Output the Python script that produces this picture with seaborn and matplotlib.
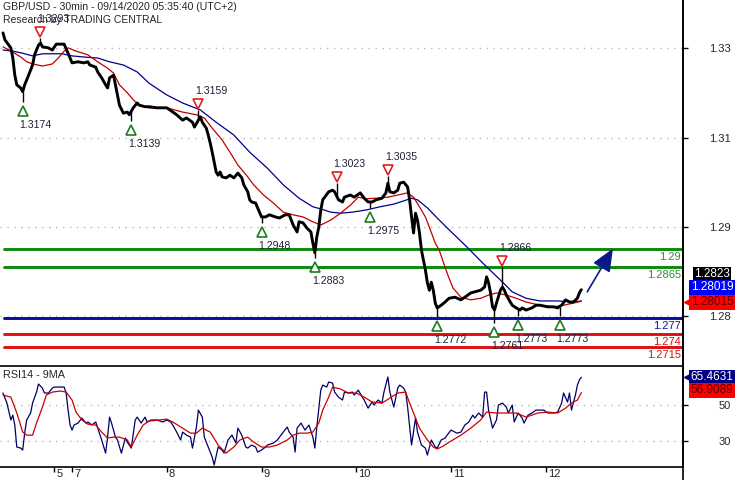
import matplotlib.pyplot as plt
import matplotlib.transforms as mtrans
from matplotlib.lines import Line2D
import numpy as np
import seaborn as sns

# GBP/USD 30 min closes, x = bar number from the left edge of the chart
price_bar = [0, 1, 4, 5, 6, 7, 9, 10, 11, 13,
             15, 16, 18, 19, 20, 23, 25, 27, 31, 33,
             34, 35, 38, 41, 43, 44, 47, 48, 50, 52,
             53, 54, 56, 57, 58, 59, 61, 63, 64, 66,
             68, 69, 72, 74, 78, 83, 88, 91, 93, 96,
             97, 99, 100, 101, 103, 104, 105, 106, 107, 108,
             109, 110, 111, 113, 115, 117, 119, 121, 122, 124,
             125, 126, 128, 129, 131, 133, 135, 138, 140, 143,
             145, 147, 149, 150, 152, 154, 156, 157, 158, 159,
             160, 161, 162, 163, 165, 167, 168, 170, 172, 173,
             176, 178, 181, 183, 185, 187, 189, 192, 194, 195,
             196, 198, 200, 201, 203, 205, 206, 207, 208, 209,
             210, 211, 212, 213, 214, 215, 216, 217, 218, 219,
             220, 222, 224, 226, 229, 232, 234, 237, 239, 242,
             244, 245, 246, 247, 248, 249, 250, 252, 253, 254,
             255, 257, 258, 260, 262, 263, 265, 268, 270, 272,
             276, 279, 281, 283, 285, 287, 289, 291, 292, 293]
price_close = [1.3303, 1.3290, 1.3275, 1.3256, 1.3224, 1.3206, 1.3200, 1.3193, 1.3206, 1.3224,
               1.3243, 1.3262, 1.3280, 1.3284, 1.3277, 1.3275, 1.3271, 1.3282, 1.3282, 1.3265,
               1.3256, 1.3247, 1.3249, 1.3247, 1.3249, 1.3243, 1.3239, 1.3230, 1.3219, 1.3206,
               1.3200, 1.3219, 1.3224, 1.3206, 1.3187, 1.3168, 1.3153, 1.3155, 1.3150, 1.3163,
               1.3172, 1.3168, 1.3165, 1.3165, 1.3163, 1.3163, 1.3150, 1.3140, 1.3144, 1.3136,
               1.3127, 1.3140, 1.3146, 1.3136, 1.3125, 1.3112, 1.3097, 1.3080, 1.3062, 1.3043,
               1.3037, 1.3043, 1.3034, 1.3032, 1.3037, 1.3032, 1.3041, 1.3032, 1.3019, 1.3006,
               1.2991, 1.2987, 1.2985, 1.2976, 1.2959, 1.2959, 1.2963, 1.2959, 1.2957, 1.2963,
               1.2963, 1.2944, 1.2931, 1.2950, 1.2948, 1.2938, 1.2931, 1.2910, 1.2892, 1.2922,
               1.2940, 1.2972, 1.2991, 1.2996, 1.3006, 1.3009, 1.3006, 1.2991, 1.2987, 1.2996,
               1.3000, 1.2996, 1.3004, 1.2994, 1.2987, 1.2987, 1.2991, 1.2994, 1.3004, 1.3022,
               1.3006, 1.3004, 1.3009, 1.3022, 1.3024, 1.3015, 1.2991, 1.2959, 1.2929, 1.2966,
               1.2953, 1.2929, 1.2897, 1.2879, 1.2860, 1.2836, 1.2822, 1.2837, 1.2822, 1.2798,
               1.2789, 1.2794, 1.2800, 1.2807, 1.2809, 1.2804, 1.2809, 1.2817, 1.2819, 1.2822,
               1.2828, 1.2847, 1.2836, 1.2817, 1.2791, 1.2785, 1.2798, 1.2822, 1.2828, 1.2822,
               1.2813, 1.2800, 1.2794, 1.2789, 1.2785, 1.2789, 1.2785, 1.2789, 1.2794, 1.2794,
               1.2791, 1.2791, 1.2789, 1.2794, 1.2804, 1.2800, 1.2800, 1.2807, 1.2817, 1.2823]

# fast (red) and slow (blue) moving averages
red_ma_bar = [0, 5, 9, 12, 15, 20, 25, 28, 31, 33,
              37, 43, 48, 53, 56, 59, 63, 66, 69, 74,
              83, 91, 98, 102, 106, 111, 115, 119, 124, 127,
              132, 137, 142, 147, 152, 157, 161, 166, 171, 176,
              180, 184, 189, 195, 200, 205, 208, 211, 214, 216,
              219, 221, 225, 228, 232, 237, 242, 246, 250, 255,
              260, 265, 272, 279, 284, 289, 293]
red_ma_val = [1.3277, 1.3267, 1.3258, 1.3249, 1.3245, 1.3241, 1.3245, 1.3256, 1.3269, 1.3275,
              1.3269, 1.3262, 1.3249, 1.3237, 1.3228, 1.3206, 1.3191, 1.3178, 1.3168, 1.3163,
              1.3163, 1.3155, 1.3150, 1.3144, 1.3125, 1.3103, 1.3080, 1.3056, 1.3034, 1.3019,
              1.3000, 1.2985, 1.2968, 1.2963, 1.2959, 1.2950, 1.2944, 1.2953, 1.2966, 1.2981,
              1.2996, 1.2993, 1.2994, 1.2996, 1.3000, 1.3004, 1.2996, 1.2978, 1.2959, 1.2940,
              1.2910, 1.2897, 1.2854, 1.2826, 1.2809, 1.2804, 1.2807, 1.2813, 1.2817, 1.2813,
              1.2807, 1.2800, 1.2794, 1.2791, 1.2794, 1.2798, 1.28015]
blue_ma_bar = [0, 5, 10, 15, 20, 25, 30, 35, 41, 48,
               54, 61, 68, 74, 83, 91, 100, 108, 117, 125,
               134, 142, 150, 157, 161, 166, 171, 177, 184, 191,
               198, 203, 207, 210, 215, 220, 226, 235, 243, 252,
               258, 265, 272, 281, 289, 293]
blue_ma_val = [1.3271, 1.3269, 1.3265, 1.3260, 1.3264, 1.3264, 1.3264, 1.3260, 1.3258, 1.3256,
               1.3249, 1.3243, 1.3230, 1.3209, 1.3187, 1.3172, 1.3159, 1.3136, 1.3112, 1.3080,
               1.3050, 1.3019, 1.2994, 1.2978, 1.2974, 1.2968, 1.2966, 1.2968, 1.2972, 1.2978,
               1.2983, 1.2989, 1.2994, 1.2991, 1.2976, 1.2957, 1.2935, 1.2903, 1.2873, 1.2841,
               1.2819, 1.2807, 1.2802, 1.2802, 1.2800, 1.28019]

# swing highs / lows
high_bar = [19, 99, 169, 195, 253]
high_val = [1.3293, 1.3159, 1.3023, 1.3035, 1.2866]
low_bar = [10, 65, 131, 158, 186, 220, 249, 261, 282]
low_val = [1.3174, 1.3139, 1.2948, 1.2883, 1.2975, 1.2772, 1.2761, 1.2773, 1.2773]

# key levels
resist_levels = [1.29, 1.2865]
pivot_level = 1.277
support_levels = [1.274, 1.2715]
target = 1.29

# RSI14 and its 9 period MA
rsi_bar = [0, 2, 4, 5, 6, 7, 9, 10, 11, 12,
           14, 15, 17, 18, 20, 21, 23, 25, 26, 28,
           31, 32, 33, 34, 35, 36, 38, 40, 42, 43,
           45, 47, 48, 50, 52, 53, 54, 55, 57, 58,
           60, 62, 63, 65, 67, 68, 70, 72, 73, 75,
           78, 81, 83, 85, 86, 88, 90, 91, 93, 95,
           96, 98, 99, 101, 102, 104, 106, 107, 109, 111,
           112, 114, 116, 118, 119, 121, 123, 124, 126, 128,
           129, 131, 133, 134, 137, 139, 142, 144, 145, 147,
           148, 149, 151, 153, 155, 157, 158, 159, 161, 162,
           164, 165, 167, 168, 170, 172, 173, 175, 177, 178,
           180, 182, 183, 185, 187, 188, 190, 192, 193, 195,
           196, 198, 200, 201, 203, 204, 205, 207, 209, 210,
           212, 214, 215, 217, 219, 220, 222, 224, 225, 227,
           229, 230, 232, 234, 236, 238, 239, 241, 243, 244,
           245, 246, 248, 250, 251, 253, 255, 256, 258, 259,
           261, 263, 264, 266, 268, 270, 271, 274, 276, 279,
           281, 283, 284, 286, 287, 288, 290, 291, 292, 293]
rsi_val = [56.7, 51.1, 41.7, 44.4, 38.9, 26.7, 26.1, 25.0, 34.4, 41.7,
           45.6, 51.1, 57.2, 61.7, 59.4, 56.7, 56.7, 59.4, 60.0, 60.0,
           60.0, 56.7, 47.2, 38.9, 36.1, 38.9, 40.0, 42.8, 40.0, 40.6,
           38.9, 40.6, 37.2, 30.6, 23.3, 32.2, 43.3, 40.0, 32.2, 30.6,
           23.3, 31.7, 29.4, 26.1, 41.7, 43.3, 40.0, 43.3, 40.6, 41.7,
           41.7, 40.6, 41.7, 40.6, 38.9, 35.0, 30.6, 35.0, 33.3, 32.2,
           26.1, 37.8, 47.2, 43.3, 32.2, 26.7, 21.1, 16.7, 26.7, 25.0,
           23.3, 30.6, 33.3, 28.9, 37.2, 33.3, 26.7, 26.1, 27.8, 26.7,
           23.9, 25.0, 26.7, 27.8, 28.9, 30.6, 35.0, 37.8, 35.0, 32.2,
           23.9, 37.2, 40.0, 36.1, 38.9, 32.2, 26.1, 37.8, 58.3, 61.1,
           60.0, 62.8, 62.2, 57.2, 54.4, 52.8, 57.2, 56.7, 57.2, 55.6,
           58.3, 54.4, 52.8, 48.3, 51.7, 50.0, 52.8, 51.1, 57.2, 65.6,
           57.2, 48.9, 59.4, 61.1, 59.4, 57.2, 48.9, 27.8, 42.8, 35.0,
           27.8, 26.1, 22.2, 30.6, 26.7, 26.1, 30.6, 31.7, 33.3, 36.1,
           35.0, 34.4, 35.0, 38.9, 40.6, 44.4, 42.8, 45.6, 43.3, 57.2,
           57.2, 47.2, 37.2, 41.7, 50.0, 51.1, 48.9, 45.6, 50.0, 40.6,
           45.6, 42.8, 40.0, 44.4, 45.6, 47.2, 47.2, 47.2, 45.6, 45.6,
           46.1, 51.1, 56.7, 51.7, 56.7, 47.2, 55.6, 61.1, 63.9, 65.4631]
rsi_ma_bar = [0, 4, 7, 10, 12, 15, 17, 20, 22, 25,
              29, 32, 35, 37, 40, 43, 47, 50, 53, 56,
              59, 63, 65, 68, 71, 74, 79, 83, 86, 91,
              95, 98, 101, 105, 109, 113, 117, 120, 124, 127,
              131, 135, 139, 144, 147, 150, 154, 157, 160, 162,
              165, 167, 171, 175, 179, 183, 187, 192, 196, 200,
              204, 206, 209, 211, 215, 218, 220, 223, 226, 232,
              237, 242, 245, 250, 255, 260, 265, 271, 276, 281,
              285, 288, 291, 293]
rsi_ma_val = [55.6, 54.4, 45.6, 35.0, 33.3, 33.3, 40.0, 48.9, 55.6, 57.2,
              57.8, 57.2, 52.8, 46.1, 41.7, 39.4, 38.9, 35.0, 31.7, 32.2,
              32.2, 30.6, 26.7, 33.3, 38.9, 41.1, 41.7, 42.2, 40.6, 37.2,
              34.4, 34.4, 37.2, 35.0, 27.8, 23.3, 26.7, 30.6, 32.2, 29.4,
              26.7, 26.7, 27.8, 30.6, 33.3, 34.4, 34.4, 35.0, 40.0, 47.2,
              54.4, 60.0, 58.9, 56.7, 56.7, 54.4, 51.7, 51.1, 53.9, 56.7,
              57.2, 51.1, 42.8, 37.2, 30.6, 26.7, 25.6, 27.2, 29.4, 33.3,
              37.2, 41.7, 46.1, 45.6, 45.6, 45.6, 43.3, 45.6, 46.1, 45.6,
              48.3, 51.1, 52.8, 56.9089]

# axis ticks as printed on the chart
price_tick_pos = [1.3275, 1.3107, 1.2940, 1.2774]
price_tick_lab = ['1.33', '1.31', '1.29', '1.28']
rsi_ticks = [50, 30]
day_bar = [26, 35, 83, 131, 179, 227, 275]
day_lab = ['5', '7', '8', '9', '10', '11', '12']

sns.set_theme(style='white')
plt.rcParams['font.family'] = ['Liberation Sans', 'DejaVu Sans']

W, H = 735, 480
fig = plt.figure(figsize=(W / 100, H / 100), dpi=100)
ax = fig.add_axes([0, 1 - 366 / H, 683 / W, 366 / H])
ax2 = fig.add_axes([0, 1 - 467 / H, 683 / W, 101 / H])


def shift(a, dx, dy):
    return mtrans.offset_copy(a.transData, fig=fig, x=dx, y=dy, units='dots')


def side(a, dx, dy):
    base = mtrans.blended_transform_factory(a.transAxes, a.transData)
    return base + mtrans.ScaledTranslation(dx / 100, dy / 100, fig.dpi_scale_trans)


dots = (0, (1, 4))
xlim = (-1.5, 344.5)

# ---- price panel ----
for p in price_tick_pos:
    ax.axhline(p, color='#b8b8b8', lw=1, ls=dots, zorder=0)
for lv in resist_levels:
    ax.axhline(lv, xmin=0.006, color='#0a8a0a', lw=2.1, zorder=1)
ax.axhline(pivot_level, xmin=0.006, color='#0a0aa0', lw=2.1, zorder=1)
for lv in support_levels:
    ax.axhline(lv, xmin=0.006, color='#dd1010', lw=2.1, zorder=1)

sns.lineplot(x=blue_ma_bar, y=blue_ma_val, ax=ax, color='#00008c', linewidth=0.9, estimator=None)
sns.lineplot(x=red_ma_bar, y=red_ma_val, ax=ax, color='#c00000', linewidth=0.9, estimator=None)

# wicks down/up to the swing extremes
close_hi = np.interp(high_bar, price_bar, price_close)
close_lo = np.interp(low_bar, price_bar, price_close)
ax.vlines(high_bar, close_hi, high_val, color='black', lw=1, zorder=3)
ax.vlines(low_bar, low_val, close_lo, color='black', lw=1, zorder=3)
sns.lineplot(x=price_bar, y=price_close, ax=ax, color='black', linewidth=2.1, estimator=None, zorder=4)

ax.plot(high_bar, high_val, ls='none', marker='v', ms=7.5, mfc='white', mec='#e02020', mew=1.2,
        transform=shift(ax, 0, 6), zorder=5)
ax.plot(low_bar, low_val, ls='none', marker='^', ms=7.5, mfc='white', mec='#1f7a1f', mew=1.2,
        transform=shift(ax, 0, -9), zorder=5)
for b, v in zip(high_bar, high_val):
    ax.text(b, v, f'{v:.4f}', transform=shift(ax, -3, 19), ha='left', va='center',
            fontsize=7.6, color='#202038', zorder=6)
for b, v in zip(low_bar, low_val):
    ax.text(b, v, f'{v:.4f}', transform=shift(ax, -3, -23), ha='left', va='center',
            fontsize=7.6, color='#202038', zorder=6)

# level labels inside the plot
lvl_style = [(resist_levels[0], '1.29', '#2f8f2f'), (resist_levels[1], '1.2865', '#2f8f2f'),
             (pivot_level, '1.277', '#1010a0'), (support_levels[0], '1.274', '#dd1010'),
             (support_levels[1], '1.2715', '#dd1010')]
for lv, txt, col in lvl_style:
    ax.text(1, lv, txt, transform=side(ax, -2, -3), ha='right', va='top', fontsize=8, color=col)

# forecast arrow toward the target
start = price_bar[-1] + 3
ax.annotate('', xy=(start + 13, target), xytext=(start, price_close[-1] - 0.0004),
            arrowprops=dict(arrowstyle='-|>,head_length=0.7,head_width=0.3', color='#0a1a8a',
                            lw=1.2, mutation_scale=20, shrinkA=0, shrinkB=0), zorder=6)

ax.set_xlim(*xlim)
ax.set_ylim(1.26804, 1.33645)
ax.set_xticks([])
ax.yaxis.tick_right()
ax.set_yticks(price_tick_pos, price_tick_lab)
ax.tick_params(axis='y', right=True, left=False, labelright=True, labelleft=False,
               direction='out', length=3.6, width=1, color='black', pad=31, labelsize=8)
for t in ax.get_yticklabels():
    t.set_ha('right')
for s in ['top', 'left', 'bottom']:
    ax.spines[s].set_visible(False)
ax.spines['right'].set_color('black')
ax.spines['right'].set_linewidth(1.2)
ax.set_xlabel('')
ax.set_ylabel('')

# value boxes at the right, stacked upward from the red MA value
anchor = red_ma_val[-1]
boxes = [(27, '1.2823', 'black', 'white', False),
         (14, '1.28019', '#0000ff', 'white', False),
         (-1, '1.28015', '#ff0000', '#5a0000', True)]
for dy, txt, fc, tc, ptr in boxes:
    ax.text(1, anchor, txt, transform=side(ax, 29, dy), ha='center', va='center', fontsize=8.5,
            color=tc, bbox=dict(boxstyle='square,pad=0.12', fc=fc, ec='none'), clip_on=False)
    if ptr:
        ax.plot([1], [anchor], marker='<', ms=7, color=fc, transform=side(ax, 6, dy), clip_on=False)

# ---- RSI panel ----
for r in rsi_ticks:
    ax2.axhline(r, color='#b8b8b8', lw=1, ls=dots, zorder=0)
sns.lineplot(x=rsi_bar, y=rsi_val, ax=ax2, color='#000066', linewidth=0.9, estimator=None)
sns.lineplot(x=rsi_ma_bar, y=rsi_ma_val, ax=ax2, color='#cc0000', linewidth=0.9, estimator=None)
ax2.text(3 / 683, 0.91, 'RSI14 - 9MA', transform=ax2.transAxes, fontsize=7.8, va='center')

ax2.set_xlim(*xlim)
ax2.set_ylim(15.6, 71.7)
ax2.yaxis.tick_right()
ax2.set_yticks(rsi_ticks, [str(r) for r in rsi_ticks])
ax2.tick_params(axis='y', right=True, left=False, labelright=True, labelleft=False,
                direction='out', length=3.6, width=1, color='black', pad=31, labelsize=8)
for t in ax2.get_yticklabels():
    t.set_ha('right')
ax2.set_xticks(day_bar, day_lab)
ax2.tick_params(axis='x', bottom=True, direction='out', length=3.6, width=1, color='black',
                pad=-2.5, labelsize=8)
for t in ax2.get_xticklabels():
    t.set_ha('left')
    t.set_transform(t.get_transform() + mtrans.ScaledTranslation(2 / 100, 0, fig.dpi_scale_trans))
ax2.spines['left'].set_visible(False)
for s in ['top', 'bottom', 'right']:
    ax2.spines[s].set_color('black')
    ax2.spines[s].set_linewidth(1.2)
ax2.set_xlabel('')
ax2.set_ylabel('')

rsi_boxes = [(rsi_val[-1], 0, '65.4631', '#000080', 'white'),
             (rsi_ma_val[-1], 2.5, '56.9089', '#ff0000', '#5a0000')]
for val, dy, txt, fc, tc in rsi_boxes:
    ax2.text(1, val, txt, transform=side(ax2, 29, dy), ha='center', va='center', fontsize=8.5,
             color=tc, bbox=dict(boxstyle='square,pad=0.12', fc=fc, ec='none'), clip_on=False)
ax2.plot([1], [rsi_val[-1]], marker='<', ms=7, color='#000080', transform=side(ax2, 6, 0),
         clip_on=False)

fig.add_artist(Line2D([683 / W, 683 / W], [0, 1], color='black', lw=1.2, transform=fig.transFigure))

fig.text(3 / W, 1 - 7 / H, 'GBP/USD - 30min - 09/14/2020 05:35:40 (UTC+2)', fontsize=7.6, va='center')
fig.text(3 / W, 1 - 20 / H, 'Research by TRADING CENTRAL', fontsize=7.5, va='center')

fig.savefig('out.png', dpi=100)
